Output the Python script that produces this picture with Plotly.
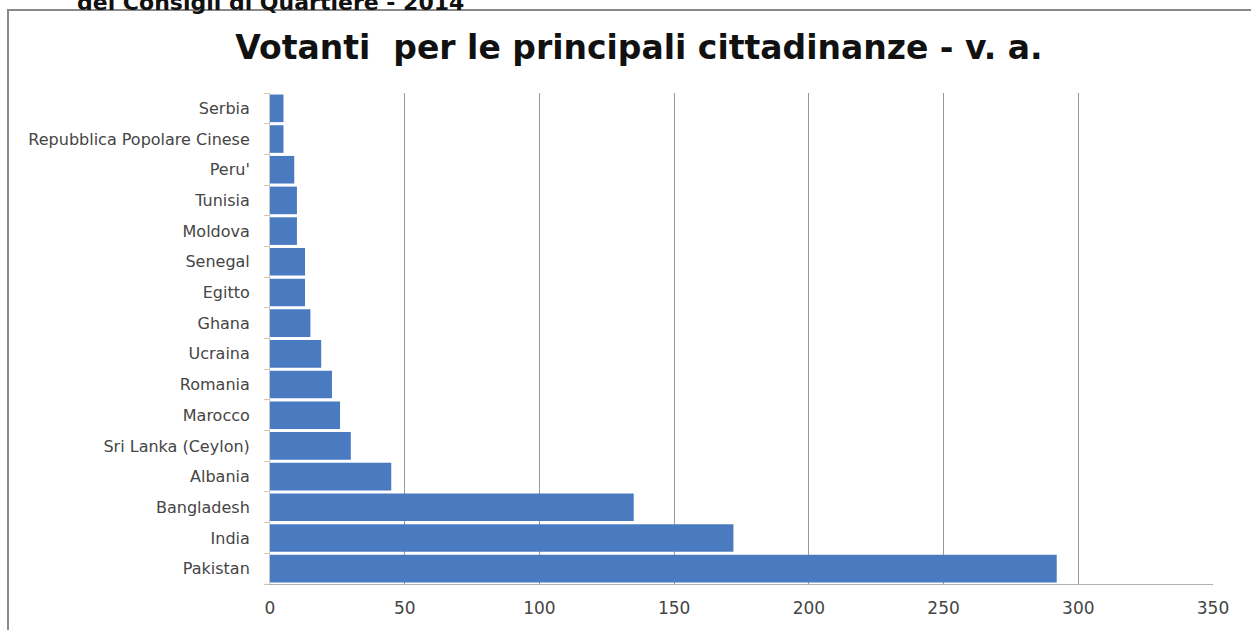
import plotly.graph_objects as go

categories = ["Pakistan", "India", "Bangladesh", "Albania", "Sri Lanka (Ceylon)", "Marocco",
              "Romania", "Ucraina", "Ghana", "Egitto", "Senegal", "Moldova", "Tunisia",
              "Peru'", "Repubblica Popolare Cinese", "Serbia"]
votanti = [292, 172, 135, 45, 30, 26, 23, 19, 15, 13, 13, 10, 10, 9, 5, 5]
x_ticks = [0, 50, 100, 150, 200, 250, 300, 350]

W, H = 1251, 630
L, R, T, B = 270, 1213, 93, 584

fig = go.Figure(go.Bar(
    x=votanti, y=categories, orientation="h",
    marker=dict(color="#4A7BC0", line=dict(width=0)),
))

def px(X):
    return (X - L) / (R - L)

def py(Y):
    return (B - Y) / (B - T)

fig.update_layout(
    width=W, height=H,
    margin=dict(l=L, r=W - R, t=T, b=H - B),
    paper_bgcolor="white", plot_bgcolor="white",
    bargap=0.1,
    showlegend=False,
    font=dict(family="DejaVu Sans, sans-serif", color="#404040"),
    title=dict(text="Votanti\u00a0\u00a0per le principali cittadinanze - v. a.",
               x=639 / W, xanchor="center", y=1 - 47 / H, yanchor="middle",
               xref="container", yref="container",
               font=dict(family="DejaVu Sans, sans-serif", size=33, color="#111111", weight="bold")),
    xaxis=dict(range=[0, 350], tickvals=x_ticks, showgrid=True, gridcolor="#9a9a9a", gridwidth=1,
               zeroline=False, showline=True, linecolor="#b0b0b0", linewidth=1,
               ticks="", tickfont=dict(size=17, color="#454545"), ticklabelstandoff=9),
    yaxis=dict(categoryorder="array", categoryarray=categories, showgrid=False,
               showline=True, linecolor="#c8c8c8", linewidth=1,
               ticks="outside", tickson="boundaries", ticklen=5, tickcolor="#d8c8a8",
               tickfont=dict(size=16, color="#454545"), ticklabelstandoff=16),
)

# outer chart frame
fig.add_shape(type="rect", xref="paper", yref="paper",
              x0=px(8), x1=px(W + 20), y0=py(H + 20), y1=py(10),
              line=dict(color="#8a8a8a", width=2), fillcolor="rgba(0,0,0,0)", layer="below")

# partially cut heading above the chart
fig.add_annotation(text="dei Consigli di Quartiere - 2014", xref="paper", yref="paper",
                   x=px(75), y=py(2), xanchor="left", yanchor="middle", showarrow=False,
                   font=dict(family="DejaVu Sans, sans-serif", size=22, color="#111111",
                             weight="bold"))

fig.write_html("out.html", config={"displayModeBar": False},
               post_script="document.body.style.margin='0';")
